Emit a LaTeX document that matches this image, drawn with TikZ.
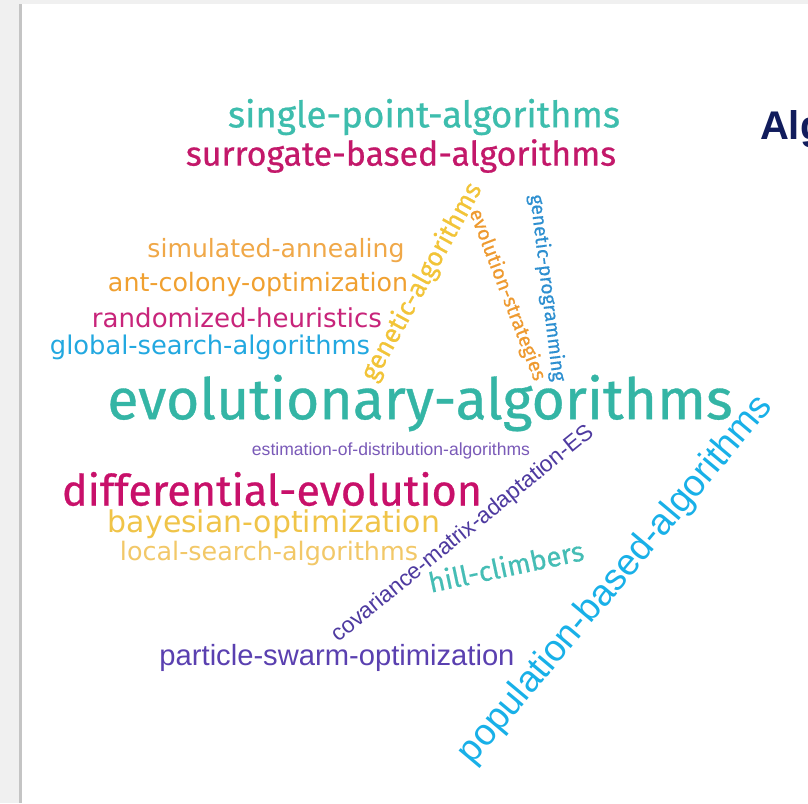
\documentclass[tikz,border=0pt]{standalone}
\usepackage{fontspec}
\usepackage{graphicx}
\setmainfont{Fira Sans}[FakeBold=0.6]
\newfontfamily\verdfont{DejaVu Sans}
\newfontfamily\arialfont{Liberation Sans}
\newfontfamily\boldhead{Liberation Sans}

% word colours
\definecolor{tealA}{HTML}{3DBDAD}
\definecolor{tealB}{HTML}{34B5A5}
\definecolor{tealC}{HTML}{45BDB5}
\definecolor{magA}{HTML}{C3186A}
\definecolor{magB}{HTML}{C8247A}
\definecolor{magC}{HTML}{C8106A}
\definecolor{orA}{HTML}{F0A848}
\definecolor{orB}{HTML}{F0A030}
\definecolor{orC}{HTML}{EE9A30}
\definecolor{yeA}{HTML}{F2C438}
\definecolor{yeB}{HTML}{F0C448}
\definecolor{yeC}{HTML}{F2C868}
\definecolor{blA}{HTML}{22A8E0}
\definecolor{blB}{HTML}{18B0E8}
\definecolor{blC}{HTML}{2D8FD0}
\definecolor{puA}{HTML}{7A5AB8}
\definecolor{puB}{HTML}{4E3AA0}
\definecolor{puC}{HTML}{5A40B0}
\definecolor{navy}{HTML}{111C5C}
\definecolor{pagegray}{HTML}{F0F0F0}
\definecolor{edgegray}{HTML}{C4C4C4}

% scale a word to a given width (in pt)
\newcommand\fitw[2]{\resizebox{#1pt}{!}{#2}}

\begin{document}
\begin{tikzpicture}[x=1pt,y=-1pt,
  word/.style={inner sep=0pt, outer sep=0pt, anchor=center},
  ubu/.style={word},
  verd/.style={word, font=\verdfont},
  aria/.style={word, font=\arialfont}]
  \useasboundingbox (0,0) rectangle (808,803);

  % page frame
  \fill[pagegray] (0,0) rectangle (808,803);
  \fill[white] (22,4) rectangle (808,803);
  \fill[edgegray] (19,4) rectangle (21.5,803);

  % heading cut off at the right edge
  \begin{scope}
    \clip (22,4) rectangle (808,803);
    \node[word, anchor=base west, text=navy, font=\boldhead\bfseries\fontsize{40}{44}\selectfont] (head) at (760,139) {Algorithms};
  \end{scope}

  % horizontal words
  \node[ubu, text=tealA] (single) at (424,117) {\fitw{392}{single-point-algorithms}};
  \node[ubu, text=magA] (surrogate) at (401,156) {\fitw{430}{surrogate-based-algorithms}};
  \node[verd, text=orA] (annealing) at (276,251) {\fitw{257}{simulated-annealing}};
  \node[verd, text=orB] (antcolony) at (258,285) {\fitw{300}{ant-colony-optimization}};
  \node[verd, text=magB] (randomized) at (237,318) {\fitw{290}{randomized-heuristics}};
  \node[verd, text=blA] (global) at (210,347) {\fitw{320}{global-search-algorithms}};
  \node[ubu, text=tealB] (evolutionary) at (420,403) {\fitw{625}{evolutionary-algorithms}};
  \node[aria, text=puA] (estimation) at (391,451) {\fitw{278}{estimation-of-distribution-algorithms}};
  \node[ubu, text=magC] (differential) at (272,489) {\fitw{420}{differential-evolution}};
  \node[verd, text=yeB] (bayesian) at (274,524) {\fitw{332}{bayesian-optimization}};
  \node[verd, text=yeC] (localsearch) at (269,553) {\fitw{298}{local-search-algorithms}};
  \node[aria, text=puC] (particle) at (337,658) {\fitw{355}{particle-swarm-optimization}};

  % slanted words
  \node[ubu, text=yeA, rotate=61] (genetic) at (422,282) {\fitw{222}{genetic-algorithms}};
  \node[ubu, text=orC, rotate=-69] (strategies) at (507,295) {\fitw{182}{evolution-strategies}};
  \node[ubu, text=blC, rotate=-83] (programming) at (547,288) {\fitw{188}{genetic-programming}};
  \node[ubu, text=tealC, rotate=12] (hill) at (506,566) {\fitw{158}{hill-climbers}};
  \node[aria, text=puB, rotate=39] (cmaes) at (463,534) {\fitw{330}{covariance-matrix-adaptation-ES}};
  \node[aria, text=blB, rotate=50] (population) at (616,580) {\fitw{468}{population-based-algorithms}};
\end{tikzpicture}
\end{document}
